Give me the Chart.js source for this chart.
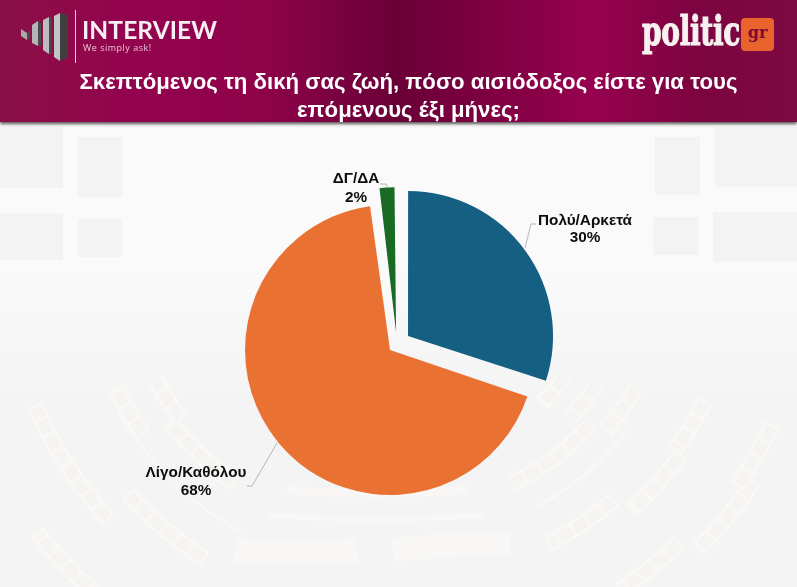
<!DOCTYPE html>
<html lang="el"><head><meta charset="utf-8">
<script src="https://cdn.jsdelivr.net/npm/chart.js@4"></script>
<style>
html,body{margin:0;padding:0;background:#f7f7f7}
#page{position:relative;width:797px;height:587px;overflow:hidden;font-family:"Liberation Sans",Arial,sans-serif}
#c{position:absolute;left:0;top:0;width:797px;height:587px}
#head{position:absolute;left:0;top:0;width:797px;height:122px;background:linear-gradient(90deg,#8a1046 0,#93044e 120px,#8f034b 260px,#6a0038 395px,#7a0040 470px,#96024f 590px,#7c0440 700px,#7d0a42 797px);box-shadow:0 2px 3px #555}
#title{position:absolute;left:0;width:817px;top:68px;text-align:center;color:#fff;font:bold 22.2px/28px "Liberation Sans",Arial,sans-serif}
#rule{position:absolute;left:75px;top:10px;width:1px;height:53px;background:#e9cfdc}
#iv{position:absolute;left:82px;top:15px;color:#f6eef2;font:bold 24.5px/30px Lato,"Open Sans",sans-serif;letter-spacing:.1px}
#ws{position:absolute;left:83px;top:42px;color:#e6c6d6;font:9px/12px "Open Sans",sans-serif;letter-spacing:.5px}
#pol{position:absolute;left:642px;top:2px;color:#f7f1ef;font:bold 41px/58px "DejaVu Serif",serif;-webkit-text-stroke:1.2px #f7f1ef;transform:scaleX(.685);transform-origin:0 0;letter-spacing:-.5px}
#grb{position:absolute;left:741px;top:18px;width:33px;height:33px;border-radius:4px;background:#e8642c;color:#7c0a35;text-align:center;font:bold 16px/29px "DejaVu Serif",serif}
#bars{position:absolute;left:0;top:0}
</style></head><body>
<div id="page">
<canvas id="c" width="797" height="587"></canvas>
<div id="head">
<svg id="bars" width="75" height="70" viewBox="0 0 75 70">
<polygon points="21,29 27,33 27,40 21,36" fill="#a9a9a9"/><polygon points="27,33 30,29 30,38 27,40" fill="#4a4a4a"/>
<polygon points="32,25 38,21 38,46 32,43" fill="#b5b5b5"/><polygon points="38,21 41,23 41,46 38,46" fill="#4a4a4a"/>
<polygon points="43,20 49,17 49,54 43,50" fill="#bcbcbc"/><polygon points="49,17 52,18 52,54 49,54" fill="#474747"/>
<polygon points="54,16 60,13 60,61 54,57" fill="#c4c4c4"/><polygon points="60,13 68,15 68,57 60,61" fill="#3f3f3f"/>
</svg>
<div id="rule"></div>
<div id="iv">INTERVIEW</div>
<div id="ws">We simply ask!</div>
<div id="pol">politic</div>
<div id="grb">gr</div>
<div id="title">Σκεπτόμενος τη δική σας ζωή, πόσο αισιόδοξος είστε για τους<br>επόμενους έξι μήνες;</div>
</div>
</div>
<script>
const categories = ["Πολύ/Αρκετά", "Λίγο/Καθόλου", "ΔΓ/ΔΑ"];
const values = [30, 68, 2];
const sliceColors = ["#156082", "#E97132", "#196B24"];
const labelCenters = [[585, 221], [196, 473], [356, 179]];
const labelGaps = [17, 18, 19];
const leaders = [
  [[525, 248], [531, 224], [536, 224]],
  [[277, 443], [252, 486], [247, 486]],
  [[388, 188], [386, 184], [380, 184]]
];
const windows = [
  [0,127,63,61],[78,137,44,60],[0,213,63,47],[78,218,44,39],
  [655,137,45,58],[715,127,82,60],[653,217,45,38],[713,212,84,50]
];
const seatBlocks = [
  [330,49,63],[424,33,45],[349,36,48],[342,26,36],[413,25,35],[275,30,41],[240,34,44],[210,37,47],[260,42,64],[406,46,57],
  [364,122,138],[395,137,149],[285,125,143],[314,144,154],[395,147,157],[275,142,152],[458,130,142]
];
const thinArcs = [[292,38,62],[323,118,150]];
const flatBands = [
  [287,467,490,7,8],[268,485,515,8,6],[235,357,550,6,24],[393,510,550,-6,24]
];

const backdrop = {
  id: "backdrop",
  beforeDraw(chart) {
    const g = chart.ctx, W = chart.width, H = chart.height;
    g.save();
    const bg = g.createLinearGradient(0, 0, 0, H);
    bg.addColorStop(0.45, "#fafafa"); bg.addColorStop(0.68, "#f4f4f4"); bg.addColorStop(1, "#f4f4f4");
    g.fillStyle = bg; g.fillRect(0, 0, W, H);
    g.fillStyle = "#f3f3f3";
    windows.forEach(w => g.fillRect(w[0], w[1], w[2], w[3]));
    const cx = 398, cy = 250, rad = Math.PI / 180;
    seatBlocks.forEach(b => {
      g.strokeStyle = "#faf8f4"; g.lineWidth = 17;
      g.beginPath(); g.arc(cx, cy, b[0], b[1] * rad, b[2] * rad); g.stroke();
      g.strokeStyle = "#f5f4f2"; g.lineWidth = 11;
      g.setLineDash([14, 3]);
      g.beginPath(); g.arc(cx, cy, b[0], (b[1] + 0.4) * rad, (b[2] - 0.4) * rad); g.stroke();
      g.setLineDash([]);
    });
    g.strokeStyle = "#faf9f7"; g.lineWidth = 2;
    thinArcs.forEach(b => { g.beginPath(); g.arc(cx, cy, b[0], b[1] * rad, b[2] * rad); g.stroke(); });
    g.strokeStyle = "#f8f7f5";
    flatBands.forEach(b => {
      g.lineWidth = b[4];
      g.beginPath(); g.moveTo(b[0], b[2]);
      g.quadraticCurveTo((b[0] + b[1]) / 2, b[2] + b[3], b[1], b[2] + (b[3] < 0 ? b[3] : 0));
      g.stroke();
    });
    g.restore();
  }
};
const outsideLabels = {
  id: "outsideLabels",
  afterDatasetsDraw(chart) {
    const g = chart.ctx;
    g.save();
    g.strokeStyle = "#a6a6a6"; g.lineWidth = 0.8;
    leaders.forEach(p => {
      g.beginPath(); g.moveTo(p[0][0], p[0][1]);
      p.slice(1).forEach(q => g.lineTo(q[0], q[1])); g.stroke();
    });
    g.fillStyle = "#0d0d0d"; g.textAlign = "center"; g.textBaseline = "middle";
    g.font = 'bold 15.3px "Liberation Sans", Arial, sans-serif';
    categories.forEach((c, i) => {
      const [x, y] = labelCenters[i];
      g.fillText(c, x, y);
      g.fillText(values[i] + "%", x, y + labelGaps[i]);
    });
    g.restore();
  }
};
// Exploded slices keep one common radius: Chart.js otherwise enlarges each slice with its offset.
// The small slice also sits a little further left in the reference than its explosion direction gives.
const sliceNudge = [[0, 0], [0, 0], [-2, 1]];
const arcDraw = Chart.elements.ArcElement.prototype.draw;
Chart.elements.ArcElement.prototype.draw = function (ctx) {
  const r = this.outerRadius;
  const grow = (this.options.offset || 0) / 4 * (1 - Math.sin(Math.min(Math.PI, this.circumference || 0)));
  const n = sliceNudge[this.$context ? this.$context.index : 0] || [0, 0];
  this.outerRadius = r - grow;
  ctx.save();
  ctx.translate(n[0], n[1]);
  arcDraw.call(this, ctx);
  ctx.restore();
  this.outerRadius = r;
};
new Chart(document.getElementById("c"), {
  type: "pie",
  data: { labels: categories, datasets: [{ data: values, backgroundColor: sliceColors, borderWidth: 0, offset: 45.6 }] },
  options: {
    responsive: false, animation: false, devicePixelRatio: 1,
    layout: { padding: { left: 231, right: 230.4, top: 174.9, bottom: 76.5 } },
    plugins: { legend: { display: false }, tooltip: { enabled: false } }
  },
  plugins: [backdrop, outsideLabels]
});
</script>
</body></html>
